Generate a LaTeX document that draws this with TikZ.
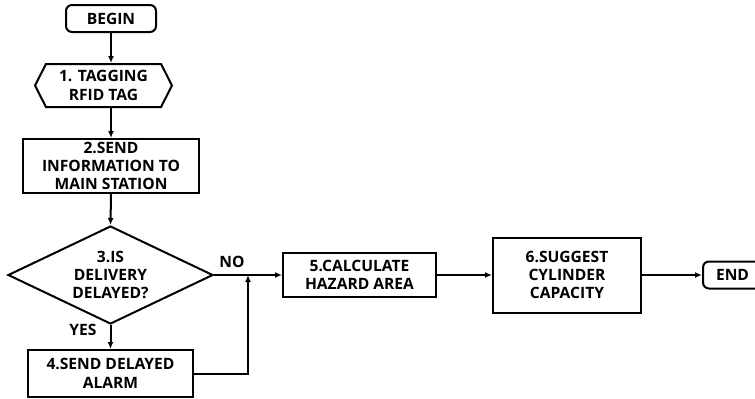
\documentclass[tikz,border=0pt]{standalone}
\usepackage{fontspec}
\setmainfont{Open Sans}
\usepackage{tikz}
\usetikzlibrary{shapes.geometric,shapes.symbols,arrows.meta}
\definecolor{ink}{HTML}{000000}
\tikzset{
  base/.style={draw=ink, line width=1pt, align=center, inner sep=0pt,
    font=\fontsize{7.8}{9.2}\selectfont\bfseries},
  box/.style={base, rectangle},
  term/.style={base, rectangle, rounded corners=3pt},
  tagbox/.style={base, signal, signal to=west and east, signal pointer angle=126},
  decide/.style={base, diamond, aspect=2.09, inner sep=-3pt},
  flow/.style={draw=ink, line width=1pt, -{Latex[length=3.5pt,width=3pt]}},
  lab/.style={text=ink, font=\fontsize{7.8}{9.2}\selectfont\bfseries},
}
\begin{document}
\begin{tikzpicture}[x=0.5pt, y=-0.5pt]
\useasboundingbox (0,0) rectangle (755,398);
\clip (0,0) rectangle (755,398);
% nodes
\node[term, minimum width=45pt, minimum height=13.5pt] (begin) at (111,18.5) {BEGIN};
\node[tagbox, minimum width=68.5pt, minimum height=21.5pt] (tag) at (103.5,85.5) {1. TAGGING\\RFID TAG};
\node[box, minimum width=88pt, minimum height=27pt] (send) at (111,166) {2.SEND\\INFORMATION TO\\MAIN STATION};
\node[decide, minimum width=102.5pt, minimum height=49pt] (delay) at (110.5,275) {3.IS\\DELIVERY\\DELAYED?};
\node[box, minimum width=82.5pt, minimum height=23.5pt] (alarm) at (110.5,373.5) {4.SEND DELAYED\\ALARM};
\node[box, minimum width=76.5pt, minimum height=22pt] (hazard) at (359.5,275) {5.CALCULATE\\HAZARD AREA};
\node[box, minimum width=74pt, minimum height=37.5pt] (suggest) at (567,275) {6.SUGGEST\\CYLINDER\\CAPACITY};
\node[term, minimum width=29.5pt, minimum height=13.5pt] (end) at (732.5,275) {END};
\coordinate (join) at (248,275);
% connectors
\draw[flow] (begin.south) -- (begin.south |- tag.north);
\draw[flow] (send.north |- tag.south) -- (send.north);
\draw[flow] (send.south) -- (delay.north);
\draw[flow] (delay.south) -- (alarm.north);
\draw[flow] (delay.east) -- (hazard.west);
\draw[flow] (alarm.east) -| (join);
\draw[flow] (hazard.east) -- (suggest.west);
\draw[flow] (suggest.east) -- (end.west);
% labels
\node[lab] (no) at (232,262) {NO};
\node[lab] (yes) at (83,330) {YES};
\end{tikzpicture}
\end{document}
